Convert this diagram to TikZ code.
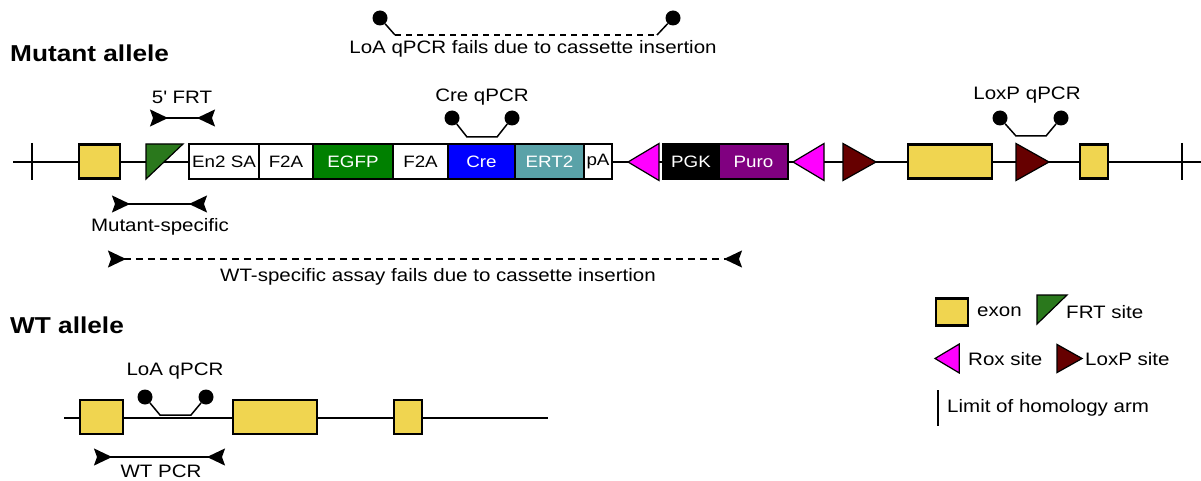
\documentclass[tikz,border=0pt]{standalone}
\usepackage{fontspec}
\setmainfont{Liberation Sans}[FakeStretch=1.14]
\usetikzlibrary{arrows.meta, positioning}
\definecolor{exonc}{RGB}{240,213,80}
\definecolor{frtc}{RGB}{42,120,28}
\definecolor{egfpc}{RGB}{0,128,0}
\definecolor{crec}{RGB}{0,0,255}
\definecolor{ert2c}{RGB}{90,162,168}
\definecolor{puroc}{RGB}{128,0,128}
\definecolor{roxc}{RGB}{255,0,255}
\definecolor{loxpc}{RGB}{102,0,0}
\tikzset{
  backbone/.style={line width=1.5pt},
  exon/.style={draw, line width=2.4pt, fill=exonc, minimum height=34pt, inner sep=0pt, outer sep=0pt, anchor=west},
  cbox/.style={draw, line width=1.2pt, fill=white, minimum height=35pt, inner sep=0pt, outer sep=0pt, font=\fontsize{16.5}{18}\selectfont},
  lbl/.style={font=\fontsize{18}{20}\selectfont, inner sep=0pt},
  allele/.style={font=\fontsize{23}{26}\selectfont\bfseries, inner sep=0pt, anchor=west},
  probe/.style={circle, fill=black, minimum size=15pt, inner sep=0pt},
  probeline/.style={line width=1.5pt},
  primer/.style={line width=1.5pt, {Stealth[reversed,length=18pt,width=17pt,inset=3pt]}-{Stealth[reversed,length=18pt,width=17pt,inset=3pt]}},
  rox/.pic={\draw[fill=roxc, line width=1.2pt] (0,0) -- (31,-18.5) -- (31,18.5) -- cycle;},
  loxp/.pic={\draw[fill=loxpc, line width=1.2pt] (0,-18.5) -- (33,0) -- (0,18.5) -- cycle;},
}

\begin{document}
\begin{tikzpicture}[x=1pt, y=-1pt]
    \useasboundingbox (0,0) rectangle (1201,481);

    % Titles
    \node[allele] (mtitle) at (10,53) {Mutant allele};
    \node[allele] (wtitle) at (10,325) {WT allele};

    % Mutant allele backbone
    \coordinate (mL) at (13,162);
    \coordinate (mR) at (1201,162);
    \draw[backbone] (mL) -- (mR);
    \draw[backbone] (32,143) -- (32,180);
    \draw[backbone] (1182,143) -- (1182,180);

    % Exon and FRT site
    \node[exon, minimum width=41pt] (mex1) at (79,161.5) {};
    \draw[fill=frtc, line width=1.2pt] (146,144) -- (183,144) -- (146,179) -- cycle;

    % Cassette
    \node[cbox, minimum width=70pt, anchor=west] (en2) at (189,161.5) {En2 SA};
    \node[cbox, minimum width=54pt, right=0pt of en2] (f2a1) {F2A};
    \node[cbox, minimum width=80pt, fill=egfpc, text=white, right=0pt of f2a1] (egfp) {EGFP};
    \node[cbox, minimum width=55pt, right=0pt of egfp] (f2a2) {F2A};
    \node[cbox, minimum width=67pt, fill=crec, text=white, right=0pt of f2a2] (cre) {Cre};
    \node[cbox, minimum width=69pt, fill=ert2c, text=white, right=0pt of cre] (ert2) {ERT2};
    \node[cbox, minimum width=28pt, right=0pt of ert2] (pa) {pA};

    \pic at (628,162) {rox};
    \node[cbox, minimum width=56pt, fill=black, text=white, anchor=west] (pgk) at (663,161.5) {PGK};
    \node[cbox, minimum width=69pt, fill=puroc, text=white, right=0pt of pgk] (puro) {Puro};
    \pic at (793,162) {rox};
    \pic at (843,162) {loxp};

    % Floxed exon
    \node[exon, minimum width=84pt] (mex2) at (908,161.5) {};
    \pic at (1016,162) {loxp};
    \node[exon, minimum width=28pt] (mex3) at (1080,161.5) {};

    % qPCR probes
    \node[probe] (cre1) at (452,118) {};
    \node[probe] (cre2) at (512,118) {};
    \draw[probeline] (cre1) -- (467,137) -- (497,137) -- (cre2);
    \node[lbl] at (482,97) {Cre qPCR};

    \node[probe] (lox1) at (1000,118) {};
    \node[probe] (lox2) at (1061,118) {};
    \draw[probeline] (lox1) -- (1016,136) -- (1046,136) -- (lox2);
    \node[lbl] at (1027,95) {LoxP qPCR};

    \node[probe] (loa1) at (380,18) {};
    \node[probe] (loa2) at (673,18) {};
    \coordinate (loaL) at (395,35);
    \coordinate (loaR) at (657,35);
    \draw[probeline] (loa1) -- (loaL);
    \draw[probeline, dash pattern=on 6pt off 5pt] (loaL) -- (loaR);
    \draw[probeline] (loaR) -- (loa2);
    \node[lbl] at (533,49) {LoA qPCR fails due to cassette insertion};

    % PCR primers
    \coordinate (frtF) at (150,118);
    \coordinate (frtR) at (215,118);
    \draw[primer] (frtF) -- (frtR);
    \node[lbl] at (182,97) {5\textquotesingle{} FRT};

    \coordinate (mutF) at (112,204);
    \coordinate (mutR) at (207,204);
    \draw[primer] (mutF) -- (mutR);
    \node[lbl] at (160,227) {Mutant-specific};

    \coordinate (wtsF) at (108,259);
    \coordinate (wtsR) at (742,259);
    \draw[primer, dash pattern=on 7pt off 5pt] (wtsF) -- (wtsR);
    \node[lbl] at (438,277) {WT-specific assay fails due to cassette insertion};

    % WT allele
    \coordinate (wL) at (64,418);
    \coordinate (wR) at (548,418);
    \draw[backbone] (wL) -- (wR);
    \node[exon, minimum width=43pt] (wex1) at (80,417) {};
    \node[exon, minimum width=84pt] (wex2) at (233,417) {};
    \node[exon, minimum width=28pt] (wex3) at (394,417) {};

    \node[probe] (wloa1) at (145,397) {};
    \node[probe] (wloa2) at (206,397) {};
    \draw[probeline] (wloa1) -- (160,415) -- (191,415) -- (wloa2);
    \node[lbl] at (175,371) {LoA qPCR};

    \coordinate (wtF) at (94,457);
    \coordinate (wtR) at (225,457);
    \draw[primer] (wtF) -- (wtR);
    \node[lbl, anchor=base] at (161,477) {WT PCR};

    % Legend
    \node[exon, minimum width=32pt, minimum height=27pt] (lexon) at (936,312) {};
    \node[lbl, anchor=west] at (977,312) {exon};
    \draw[fill=frtc, line width=1.2pt] (1037,295) -- (1067,295) -- (1037,324) -- cycle;
    \node[lbl, anchor=west] at (1066,312) {FRT site};
    \pic[scale=0.78] at (935,358.5) {rox};
    \node[lbl, anchor=west] at (968,359) {Rox site};
    \pic[scale=0.76] at (1057,358.5) {loxp};
    \node[lbl, anchor=west] at (1085,359) {LoxP site};
    \draw[line width=1.2pt] (938,390) -- (938,426);
    \node[lbl, anchor=west] at (947,408) {Limit of homology arm};
\end{tikzpicture}
\end{document}
